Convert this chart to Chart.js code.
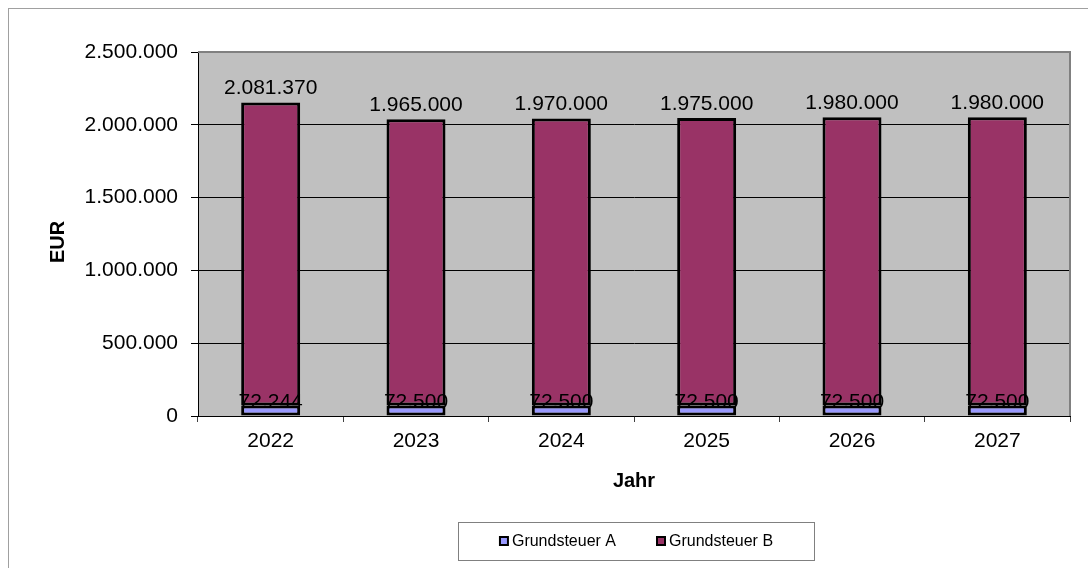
<!DOCTYPE html>
<html>
<head>
<meta charset="utf-8">
<script src="https://cdn.jsdelivr.net/npm/chart.js@4"></script>
<style>
  html, body { margin: 0; padding: 0; background: #fff; }
  #wrap { width: 1088px; height: 568px; position: relative; }
</style>
</head>
<body>
<div id="wrap"><canvas id="chart"></canvas></div>
<script>
const years = ['2022', '2023', '2024', '2025', '2026', '2027'];
const grundsteuerA = [72244, 72500, 72500, 72500, 72500, 72500];
const grundsteuerB = [2081370, 1965000, 1970000, 1975000, 1980000, 1980000];
const yTicks = [0, 500000, 1000000, 1500000, 2000000, 2500000];

const FONT = "'Liberation Sans', Arial, sans-serif";
Chart.defaults.font.family = FONT;
Chart.defaults.color = '#000';

const fmt = (v) => String(v).replace(/\B(?=(\d{3})+(?!\d))/g, '.');

// plot background, outer frame, axis titles, legend
const excelLook = {
  id: 'excelLook',
  beforeDraw(chart) {
    const { ctx, chartArea: a } = chart;
    ctx.save();
    ctx.fillStyle = '#fff';
    ctx.fillRect(0, 0, chart.width, chart.height);
    ctx.strokeStyle = '#a0a0a0';
    ctx.lineWidth = 1;
    ctx.strokeRect(8.5, 8.5, 1300, 800);
    ctx.fillStyle = '#c0c0c0';
    ctx.fillRect(a.left, a.top, a.right - a.left, a.bottom - a.top);
    ctx.restore();
  },
  afterDraw(chart) {
    const { ctx, chartArea: a } = chart;
    ctx.save();
    ctx.strokeStyle = '#808080';
    ctx.lineWidth = 2;
    ctx.beginPath();
    ctx.moveTo(a.left, a.top);
    ctx.lineTo(a.right, a.top);
    ctx.lineTo(a.right, a.bottom);
    ctx.stroke();

    ctx.fillStyle = '#000';
    ctx.font = 'bold 20px ' + FONT;
    ctx.textAlign = 'center';
    ctx.textBaseline = 'middle';
    ctx.fillText('Jahr', (a.left + a.right) / 2, 481);
    ctx.translate(58, 242);
    ctx.rotate(-Math.PI / 2);
    ctx.fillText('EUR', 0, 0);
    ctx.restore();

    // legend
    ctx.save();
    const box = { x: 458, y: 522, w: 356, h: 38 };
    ctx.fillStyle = '#fff';
    ctx.fillRect(box.x, box.y, box.w, box.h);
    ctx.strokeStyle = '#808080';
    ctx.lineWidth = 1;
    ctx.strokeRect(box.x + 0.5, box.y + 0.5, box.w, box.h);
    ctx.font = '16px ' + FONT;
    ctx.textBaseline = 'middle';
    ctx.textAlign = 'left';
    const items = chart.data.datasets.map((ds) => ({ label: ds.label, color: ds.backgroundColor, w: 13 + ctx.measureText(ds.label).width }));
    const gap = 40;
    const total = items.reduce((s, it) => s + it.w, 0) + gap * (items.length - 1);
    let x = box.x + (box.w - total) / 2;
    const cy = box.y + box.h / 2;
    items.forEach((it) => {
      ctx.fillStyle = '#000';
      ctx.fillRect(x, cy - 5, 10, 10);
      ctx.fillStyle = it.color;
      ctx.fillRect(x + 2, cy - 3, 6, 6);
      ctx.fillStyle = '#000';
      ctx.fillText(it.label, x + 13, cy + 1);
      x += it.w + gap;
    });
    ctx.restore();
  },
  afterDatasetsDraw(chart) {
    const { ctx } = chart;
    ctx.save();
    ctx.font = '21px ' + FONT;
    ctx.fillStyle = '#000';
    ctx.textAlign = 'center';
    ctx.textBaseline = 'middle';
    chart.data.datasets.forEach((ds, i) => {
      const meta = chart.getDatasetMeta(i);
      const off = i === 0 ? 3 : 14;
      meta.data.forEach((el, j) => {
        ctx.fillText(fmt(ds.data[j]), el.x, el.y - off);
      });
    });
    ctx.restore();
  }
};

new Chart(document.getElementById('chart'), {
  type: 'bar',
  data: {
    labels: years,
    datasets: [
      { label: 'Grundsteuer A', data: grundsteuerA, backgroundColor: '#9999ff' },
      { label: 'Grundsteuer B', data: grundsteuerB, backgroundColor: '#993366' }
    ]
  },
  options: {
    animation: false,
    responsive: true,
    maintainAspectRatio: false,
    layout: { padding: { top: 52, right: 18, left: 0, bottom: 0 } },
    datasets: {
      bar: {
        borderColor: '#000',
        borderWidth: 3,
        borderSkipped: false,
        barPercentage: 0.406,
        categoryPercentage: 1
      }
    },
    plugins: {
      legend: { display: false },
      tooltip: { enabled: false }
    },
    scales: {
      x: {
        stacked: true,
        afterFit: (s) => { s.height = 152; },
        border: { color: '#000', width: 1 },
        grid: {
          offset: true,
          drawOnChartArea: false,
          drawTicks: true,
          tickLength: 6,
          tickColor: '#404040'
        },
        ticks: { font: { size: 21 }, padding: 7, color: '#000' }
      },
      y: {
        stacked: true,
        min: 0,
        max: 2500000,
        afterFit: (s) => { s.width = 198; },
        afterBuildTicks: (s) => { s.ticks = yTicks.map((v) => ({ value: v })); },
        border: { color: '#000', width: 1 },
        grid: {
          color: (c) => (c.tick && c.tick.value === 2500000 ? '#808080' : '#000'),
          tickColor: '#000',
          tickLength: 7,
          lineWidth: 1
        },
        ticks: {
          font: { size: 21 },
          padding: 13,
          color: '#000',
          callback: (v) => fmt(v)
        }
      }
    }
  },
  plugins: [excelLook]
});
</script>
</body>
</html>
